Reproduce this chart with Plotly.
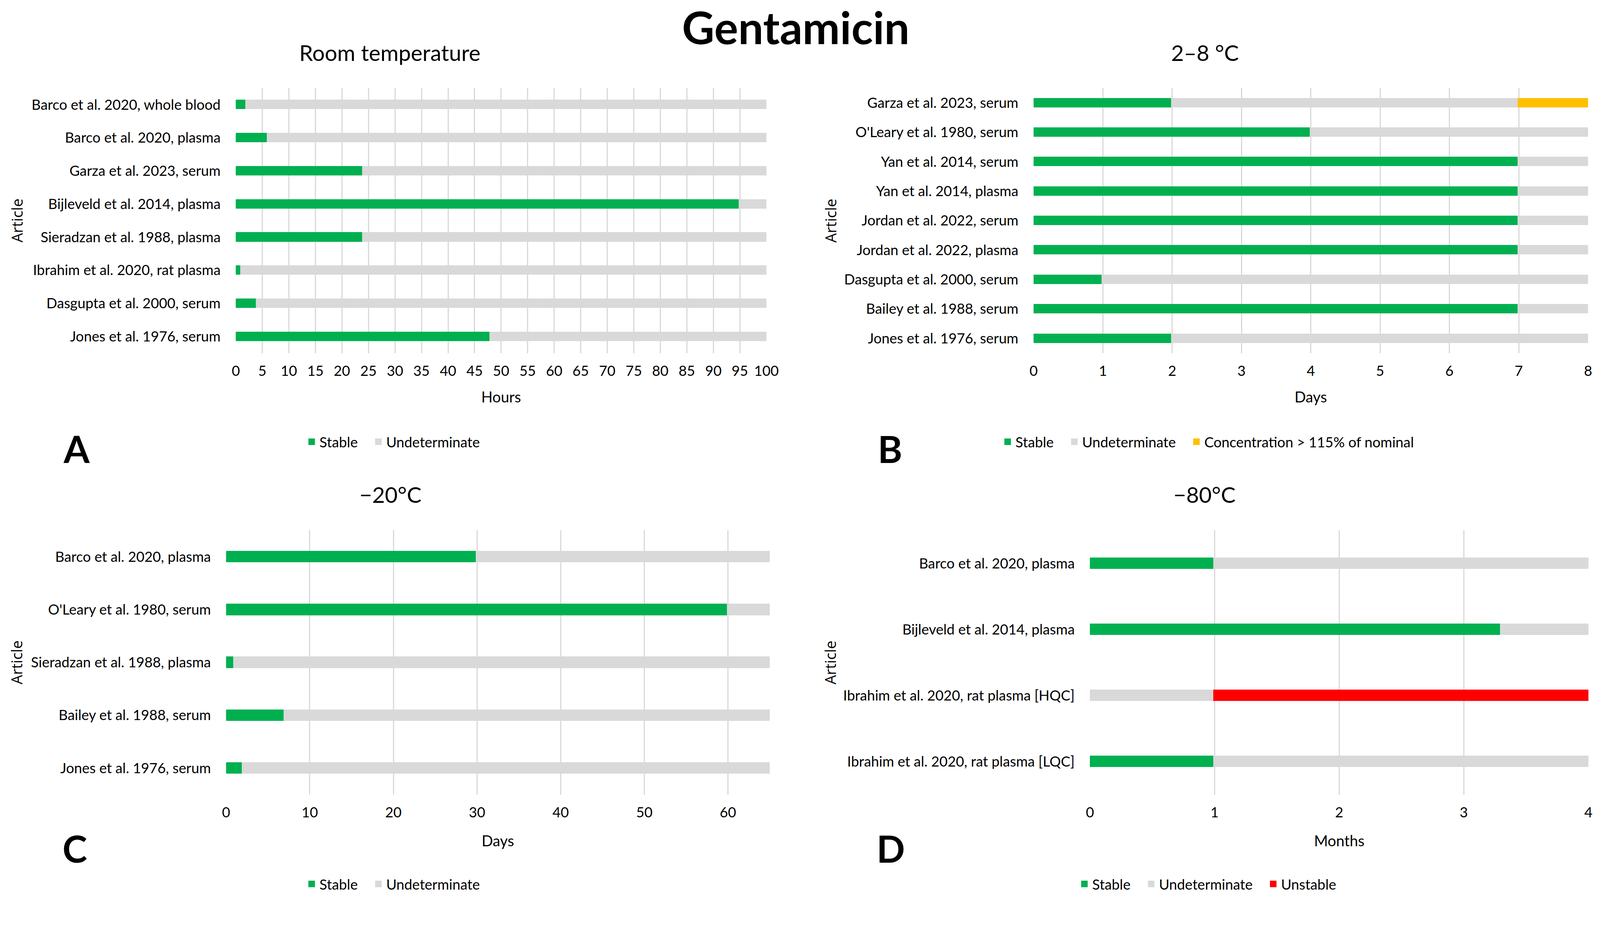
import plotly.graph_objects as go

# Reference measurements are in 4288x2411 pixel space; the page viewport is
# rendered at 4096 css px wide, so every pixel quantity is scaled by S.
REF_W, REF_H = 4288, 2411
S = 4096 / 4288
W, H = 4096, round(REF_H * S)
FONT = "Lato, Roboto, sans-serif"
GREEN = "#00B050"
GREY = "#D9D9D9"
YELLOW = "#FFC000"
RED = "#FF0000"

# ---------------- data (None = no segment) ----------------
a_articles = ["Barco et al. 2020, whole blood", "Barco et al. 2020, plasma",
              "Garza et al. 2023, serum", "Bijleveld et al. 2014, plasma",
              "Sieradzan et al. 1988, plasma", "Ibrahim et al. 2020, rat plasma",
              "Dasgupta et al. 2000, serum", "Jones et al. 1976, serum"]
a_stable = [2, 6, 24, 95, 24, 1, 4, 48]
a_undet = [98, 94, 76, 5, 76, 99, 96, 52]

b_articles = ["Garza et al. 2023, serum", "O'Leary et al. 1980, serum",
              "Yan et al. 2014, serum", "Yan et al. 2014, plasma",
              "Jordan et al. 2022, serum", "Jordan et al. 2022, plasma",
              "Dasgupta et al. 2000, serum", "Bailey et al. 1988, serum",
              "Jones et al. 1976, serum"]
b_stable = [2, 4, 7, 7, 7, 7, 1, 7, 2]
b_undet = [5, 4, 1, 1, 1, 1, 7, 1, 6]
b_high = [1, None, None, None, None, None, None, None, None]

c_articles = ["Barco et al. 2020, plasma", "O'Leary et al. 1980, serum",
              "Sieradzan et al. 1988, plasma", "Bailey et al. 1988, serum",
              "Jones et al. 1976, serum"]
c_stable = [30, 60, 1, 7, 2]
c_undet = [35, 5, 64, 58, 63]

d_articles = ["Barco et al. 2020, plasma", "Bijleveld et al. 2014, plasma",
              "Ibrahim et al. 2020, rat plasma [HQC]", "Ibrahim et al. 2020, rat plasma [LQC]"]
d_stable = [1, 3.3, None, 1]
d_undet = [3, 0.7, 1, 3]
d_unstable = [None, None, 3, None]

panel_titles = ["Room temperature", "2\u20138 \u00b0C", "\u221220\u00b0C", "\u221280\u00b0C"]
x_titles = ["Hours", "Days", "Days", "Months"]
letters = ["A", "B", "C", "D"]
PAD = "\u00a0\u00a0\u00a0"

# ---------------- helpers ----------------
def px_x(v):
    return v / REF_W

def px_y(v):
    return 1 - v / REF_H

def sz(v):
    return v * S

LW = sz(5)  # bar outline in the bar colour (also enlarges legend swatch)

fig = go.Figure()

def add_bar(x, y, color, name, ax, legend, width):
    fig.add_trace(go.Bar(
        x=x, y=y, orientation="h", name=name,
        marker=dict(color=color, line=dict(color=color, width=LW)),
        width=width, xaxis="x" + ax, yaxis="y" + ax, legend=legend,
        hoverinfo="x+y+name"))

add_bar(a_stable, a_articles, GREEN, "Stable" + PAD, "", "legend", 0.237)
add_bar(a_undet, a_articles, GREY, "Undeterminate", "", "legend", 0.237)

add_bar(b_stable, b_articles, GREEN, "Stable" + PAD, "2", "legend2", 0.266)
add_bar(b_undet, b_articles, GREY, "Undeterminate" + PAD, "2", "legend2", 0.266)
add_bar(b_high, b_articles, YELLOW, "Concentration > 115% of nominal", "2", "legend2", 0.266)

add_bar(c_stable, c_articles, GREEN, "Stable" + PAD, "3", "legend3", 0.189)
add_bar(c_undet, c_articles, GREY, "Undeterminate", "3", "legend3", 0.189)

add_bar(d_stable, d_articles, GREEN, "Stable" + PAD, "4", "legend4", 0.147)
add_bar(d_undet, d_articles, GREY, "Undeterminate" + PAD, "4", "legend4", 0.147)
add_bar(d_unstable, d_articles, RED, "Unstable", "4", "legend4", 0.147)

tickfont = dict(family=FONT, size=sz(38), color="#000000")

def xaxis(domain, rng, dtick, anchor):
    return dict(domain=domain, range=rng, dtick=dtick, tick0=0, anchor=anchor,
                showgrid=True, gridcolor=GREY, gridwidth=sz(3.5), zeroline=False,
                showline=False, ticks="", tickfont=tickfont,
                ticklabelstandoff=round(sz(22)), automargin=False, fixedrange=True)

def yaxis(domain, anchor):
    return dict(domain=domain, anchor=anchor, type="category", autorange="reversed",
                showgrid=False, zeroline=False, showline=False, ticks="",
                tickfont=tickfont, ticklabelstandoff=round(sz(40)), automargin=False,
                fixedrange=True)

top_dom = [px_y(946), px_y(236)]
bot_dom = [px_y(2129), px_y(1421)]

layout = dict(
    width=W, height=H, margin=dict(l=0, r=0, t=0, b=0),
    paper_bgcolor="white", plot_bgcolor="white",
    barmode="stack", bargap=0,
    font=dict(family=FONT, color="#000000"),
    xaxis=xaxis([px_x(632), px_x(2054)], [0, 100], 5, "y"),
    yaxis=yaxis(top_dom, "x"),
    xaxis2=xaxis([px_x(2770), px_x(4256)], [0, 8], 1, "y2"),
    yaxis2=yaxis(top_dom, "x2"),
    xaxis3=xaxis([px_x(606), px_x(2063)], [0, 65], 10, "y3"),
    yaxis3=yaxis(bot_dom, "x3"),
    xaxis4=xaxis([px_x(2921), px_x(4257)], [0, 4], 1, "y4"),
    yaxis4=yaxis(bot_dom, "x4"),
)

def legend(xc, yc):
    return dict(orientation="h", x=px_x(xc), y=px_y(yc), xanchor="center",
                yanchor="middle", font=dict(family=FONT, size=sz(38), color="#000000"),
                bgcolor="rgba(0,0,0,0)", itemwidth=30, traceorder="normal")

layout["legend"] = legend(1053, 1184)
layout["legend2"] = legend(3237, 1184)
layout["legend3"] = legend(1053, 2369)
layout["legend4"] = legend(3236, 2369)

ann = []

def text(t, x, y, size, bold=False, family=FONT, angle=0):
    ann.append(dict(text=("<b>%s</b>" % t) if bold else t, x=px_x(x), y=px_y(y),
                    xref="paper", yref="paper", xanchor="center", yanchor="middle",
                    showarrow=False, textangle=angle, borderpad=0,
                    font=dict(family=family, size=sz(size), color="#000000")))

text("Gentamicin", 2133, 72, 120, bold=True)
title_pos = [(1045, 140), (3229, 140), (1046, 1324), (3228, 1324)]
for t, (x, y) in zip(panel_titles, title_pos):
    text(t, x, y, 59)
xt_pos = [(1343, 1063), (3513, 1063), (1334, 2252), (3589, 2252)]
for t, (x, y) in zip(x_titles, xt_pos):
    text(t, x, y, 40)
for (x, y) in [(44, 591), (2225, 591), (44, 1775), (2225, 1775)]:
    text("Article", x, y, 40, family="Open Sans, sans-serif", angle=-90)
let_pos = [(205, 1202), (2385, 1202), (200, 2273), (2387, 2273)]
for t, (x, y) in zip(letters, let_pos):
    text(t, x, y, 100, bold=True)

layout["annotations"] = ann
fig.update_layout(**layout)

fig.write_html("out.html", config={"displayModeBar": False},
               post_script="document.body.style.margin='0';")
